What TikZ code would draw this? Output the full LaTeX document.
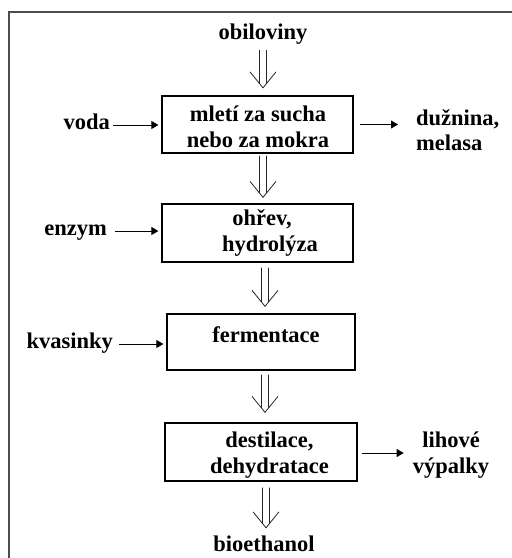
\documentclass[tikz,border=0pt]{standalone}
\usepackage{fontspec}
\setmainfont{Liberation Serif}
\usetikzlibrary{calc,arrows.meta}

\tikzset{
  every node/.style={font=\fontsize{22.5}{25.5}\selectfont\bfseries, inner sep=0pt},
  lbl/.style={text height=12pt, text depth=4pt},
  stage/.style={draw, line width=1.3pt},
  sarr/.style={line width=0.8pt, -{Triangle[length=7pt,width=8pt]}},
  % open double arrow: #1 sideways offset, #2 gap below start, #3 gap above target
  dblarrow/.style n args={3}{line width=0.8pt, draw=black!85, line cap=butt, to path={
    let \p1=(\tikztostart), \p2=(\tikztotarget) in
    (\x1+#1-3.5pt,\y1-#2) -- (\x1+#1-3.5pt,\y2+#3+4pt)
    (\x1+#1+3.5pt,\y1-#2) -- (\x1+#1+3.5pt,\y2+#3+4pt)
    (\x1+#1-13pt,\y2+#3+16pt) -- (\x1+#1,\y2+#3) -- (\x1+#1+13pt,\y2+#3+16pt)
  }}
}

\begin{document}
\begin{tikzpicture}[x=1pt,y=-1pt]
\useasboundingbox (0,0) rectangle (512,558);

% frame
\draw[line width=2pt, draw=black!70] (8.5,558) -- (8.5,11.5) -- (512,11.5);

% process stages
\node[stage, minimum width=191pt, minimum height=57pt] (b1) at (257.5,124.5) {};
\node[stage, minimum width=191pt, minimum height=58pt] (b2) at (257.5,233) {};
\node[stage, minimum width=188pt, minimum height=56pt] (b3) at (261,342) {};
\node[stage, minimum width=192pt, minimum height=58pt] (b4) at (261,452) {};

\node[align=center] (t1) at (258,127) {mletí za sucha\\nebo za mokra};
\node[align=center] (t2) at (266,233) {ohřev,\hspace*{8pt}\\\hspace*{8pt}hydrolýza};
\node[lbl] (t3) at (266,338) {fermentace};
\node[align=center] (t4) at (269.5,455) {destilace,\\dehydratace};

% inputs and outputs
\node[lbl] (obil) at (263,35) {obiloviny};
\node[lbl] (bio) at (264,547) {bioethanol};
\node[lbl, anchor=east] (voda) at (110,125) {voda};
\node[lbl, anchor=east] (enz) at (107,231) {enzym};
\node[lbl, anchor=east] (kvas) at (113,344) {kvasinky};
\node[align=left, anchor=west] (duz) at (416,130) {dužnina,\\melasa};
\node[align=center] (lih) at (451,455) {lihové\\výpalky};

% main flow
\draw[dblarrow={0pt}{7pt}{7.5pt}] (obil.south) to (b1.north);
\draw[dblarrow={5.5pt}{2pt}{6pt}] (b1.south) to (b2.north);
\draw[dblarrow={7.5pt}{5pt}{7pt}] (b2.south) to (b3.north);
\draw[dblarrow={4pt}{4pt}{10pt}] (b3.south) to (b4.north);
\draw[dblarrow={5pt}{6pt}{11pt}] (b4.south) to (bio.north);

% side streams
\draw[sarr, shorten <=3pt, shorten >=3pt] (voda.east) -- (voda.east -| b1.west);
\draw[sarr, shorten <=8pt, shorten >=3pt] (enz.east) -- (enz.east -| b2.west);
\draw[sarr, shorten <=6pt, shorten >=3pt] (kvas.east) -- (kvas.east -| b3.west);
\draw[sarr, shorten <=6pt, shorten >=18pt] (b1.east) -- (b1.east -| duz.west);
\draw[sarr, shorten <=4pt, shorten >=9pt] ([yshift=-1pt]b4.east) -- ([yshift=-1pt]b4.east -| lih.west);
\end{tikzpicture}
\end{document}
